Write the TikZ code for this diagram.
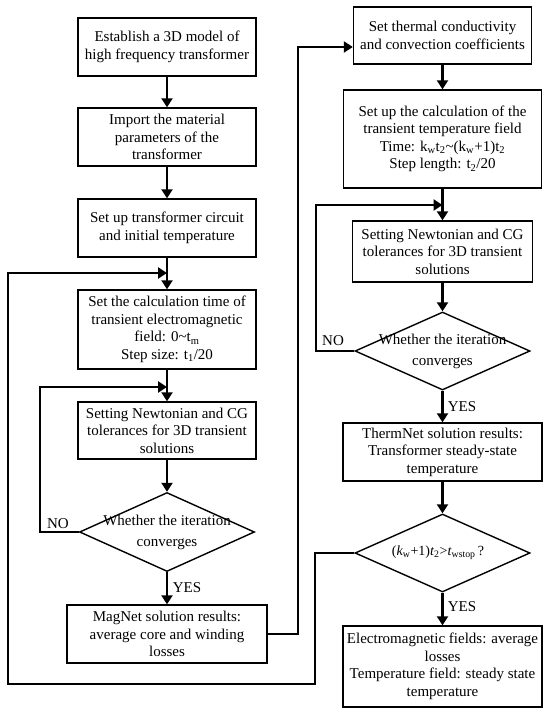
\documentclass[tikz,border=0pt]{standalone}
\usepackage{fontspec}
\setmainfont{Liberation Serif}
\usetikzlibrary{arrows.meta,shapes.geometric}
\begin{document}
\begin{tikzpicture}[x=1pt,y=-1pt,
  box/.style={draw,line width=1.4pt,inner sep=0pt,align=center,font=\fontsize{15}{17.5}\selectfont},
  dia/.style={draw,line width=1.4pt,diamond,inner sep=0pt,minimum width=175pt,minimum height=78pt},
  dtxt/.style={inner sep=0pt,align=center,font=\fontsize{15}{21}\selectfont},
  conn/.style={line width=2.3pt},
  arr/.style={conn,-{Triangle[length=9pt,width=11pt]}},
  lbl/.style={font=\fontsize{15}{17.5}\selectfont,inner sep=0pt}]
\useasboundingbox (0,0) rectangle (550,717);

% left column
\node[box,minimum width=178pt,minimum height=58pt] (b1) at (167,47) {Establish a 3D model of\\high frequency transformer};
\node[box,minimum width=178pt,minimum height=58pt] (b2) at (167,137) {Import the material\\parameters of the\\transformer};
\node[box,minimum width=178pt,minimum height=58pt] (b3) at (167,228) {Set up transformer circuit\\and initial temperature};
\node[box,minimum width=178pt,minimum height=79pt] (b4) at (167,329.5) {Set the calculation time of\\transient electromagnetic\\field: 0\textasciitilde t\textsubscript{m}\\Step size: t\textsubscript{1}/20};
\node[box,minimum width=178pt,minimum height=57pt] (b5) at (167,430.5) {Setting Newtonian and CG\\tolerances for 3D transient\\solutions};
\node[dia,minimum height=79pt] (d1) at (167,532) {};
\node[dtxt] (d1t) at (d1.center) {Whether the iteration\\converges};
\node[box,minimum width=200pt,minimum height=58pt] (mag) at (167,634) {MagNet solution results:\\average core and winding\\losses};

% right column
\node[box,minimum width=178pt,minimum height=57pt] (th) at (442.5,35.5) {Set thermal conductivity\\and convection coefficients};
\node[box,minimum width=198pt,minimum height=98pt] (calc) at (442.5,139) {Set up the calculation of the\\transient temperature field\\Time: k\textsubscript{w}t\textsubscript{2}\textasciitilde(k\textsubscript{w}+1)t\textsubscript{2}\\Step length: t\textsubscript{2}/20};
\node[box,minimum width=180pt,minimum height=61pt] (n2) at (442.5,251.5) {Setting Newtonian and CG\\tolerances for 3D transient\\solutions};
\node[dia] (d2) at (442.5,351) {};
\node[dtxt] (d2t) at (d2.center) {Whether the iteration\\converges};
\node[box,minimum width=199pt,minimum height=58pt] (tn) at (442.5,452) {ThermNet solution results:\\Transformer steady-state\\temperature};
\node[dia] (d3) at (442.5,553) {};
\node[inner sep=0pt,font=\fontsize{14}{16}\selectfont] (d3t) at (438,553) {(\textit{k}\textsubscript{w}+1)\textit{t}\textsubscript{2}>\textit{t}\textsubscript{wstop}\,?};
\node[box,minimum width=199pt,minimum height=81pt] (fin) at (442.5,666.5) {Electromagnetic fields: average\\losses\\Temperature field: steady state\\temperature};

% labels
\node[lbl] (no1) at (58,524) {NO};
\node[lbl] (no2) at (333,341) {NO};
\node[lbl] (yes1) at (187,588) {YES};
\node[lbl] (yes2) at (462,407) {YES};
\node[lbl] (yes3) at (462,607) {YES};

% straight connectors
\draw[arr] (b1) -- (b2);
\draw[arr] (b2) -- (b3);
\draw[arr] (b3) -- (b4);
\draw[arr] (b4) -- (b5);
\draw[arr] (b5) -- (d1);
\draw[arr] (d1) -- (mag);
\draw[arr] (th) -- (calc);
\draw[arr] (calc) -- (n2);
\draw[arr] (n2) -- (d2);
\draw[arr] (d2) -- (tn);
\draw[arr] (tn) -- (d3);
\draw[arr] (d3) -- (fin);

% loops
\coordinate (iA) at (167,387);
\coordinate (i1) at (40,387);
\draw[arr] (d1.west) -| (i1) -- (iA);

\coordinate (jA) at (442.5,205);
\coordinate (j1) at (316,205);
\draw[arr] (d2.west) -| (j1) -- (jA);

\coordinate (m1) at (298,47);
\draw[arr] (mag.east) -| (m1) -- (th.west |- m1);

\coordinate (mA) at (167,273);
\coordinate (o1) at (315,684);
\coordinate (o2) at (8,273);
\draw[arr] (d3.west) -| (o1) -| (o2) -- (mA);
\end{tikzpicture}
\end{document}
